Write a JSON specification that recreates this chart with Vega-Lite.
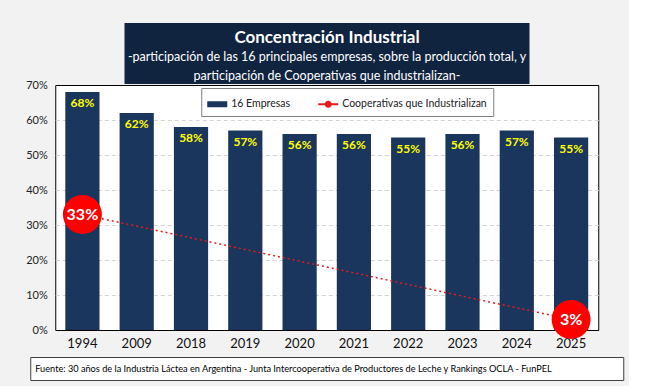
{
  "$schema": "https://vega.github.io/schema/vega-lite/v6.json",
  "background": "#f2f2f2",
  "padding": {"top": 23, "left": 25, "right": 5, "bottom": 5},
  "config": {"font": "Lato", "view": {"stroke": null}},
  "datasets": {
    "bars": [
      {"year": "1994", "share": 0.68},
      {"year": "2009", "share": 0.62},
      {"year": "2018", "share": 0.58},
      {"year": "2019", "share": 0.57},
      {"year": "2020", "share": 0.56},
      {"year": "2021", "share": 0.56},
      {"year": "2022", "share": 0.55},
      {"year": "2023", "share": 0.56},
      {"year": "2024", "share": 0.57},
      {"year": "2025", "share": 0.55}
    ],
    "coop": [
      {"year": "1994", "share": 0.33},
      {"year": "2025", "share": 0.03}
    ],
    "title": [
      {"row": 1, "text": "Concentración Industrial"},
      {"row": 2, "text": "-participación de las 16 principales empresas, sobre la producción total, y"},
      {"row": 3, "text": "participación de Cooperativas que industrializan-"}
    ]
  },
  "spacing": -6,
  "center": true,
  "bounds": "full",
  "resolve": {"scale": {"color": "independent"}, "legend": {"color": "independent"}},
  "vconcat": [
    {
      "width": 405,
      "height": 61,
      "view": {"fill": "#10243f", "stroke": null},
      "data": {"name": "title"},
      "encoding": {
        "y": {"field": "row", "type": "quantitative", "scale": {"domain": [0.2, 3.4], "reverse": true}, "axis": null},
        "text": {"field": "text"}
      },
      "layer": [
        {
          "transform": [{"filter": "datum.row === 1"}],
          "mark": {"type": "text", "fontWeight": "bold", "fontSize": 17, "color": "white"}
        },
        {
          "transform": [{"filter": "datum.row > 1"}],
          "mark": {"type": "text", "fontSize": 12.5, "color": "white"}
        }
      ]
    },
    {
      "width": 543,
      "height": 245,
      "view": {"fill": "white", "stroke": "black", "strokeWidth": 1},
      "encoding": {
        "x": {
          "field": "year", "type": "nominal", "sort": null,
          "scale": {"domain": ["1994","2009","2018","2019","2020","2021","2022","2023","2024","2025"], "paddingInner": 0.37, "paddingOuter": 0.185},
          "axis": {"title": " ", "titleFontSize": 6, "titlePadding": 0, "labelAngle": 0, "labelFontSize": 13, "labelColor": "#111", "labelPadding": 7, "ticks": false, "domain": false}
        },
        "y": {
          "field": "share", "type": "quantitative",
          "scale": {"domain": [0, 0.7]},
          "axis": {
            "title": null, "format": ".0%", "values": [0, 0.1, 0.2, 0.3, 0.4, 0.5, 0.6, 0.7],
            "labelFontSize": 11, "labelColor": "#222", "labelPadding": 8, "ticks": false, "domain": false,
            "grid": true, "gridDash": [4, 3], "gridColor": "#d4d4d4",
            "gridOpacity": {"condition": {"test": "datum.value < 0.05 || datum.value > 0.65", "value": 0}, "value": 1}
          }
        }
      },
      "layer": [
        {
          "data": {"name": "bars"},
          "mark": {"type": "bar"},
          "encoding": {
            "color": {
              "datum": "16 Empresas", "type": "nominal",
              "scale": {"domain": ["16 Empresas", "Cooperativas que Industrializan"], "range": ["#1b365d", "#e31a1c"]},
              "legend": {
                "orient": "none", "legendX": 146, "legendY": 3, "direction": "horizontal", "title": null,
                "fillColor": "white", "strokeColor": "#7f7f7f", "padding": 6,
                "labelFontSize": 10.5, "labelColor": "#222", "labelLimit": 300, "columnPadding": 28,
                "symbolSize": 400, "symbolStrokeWidth": 0,
                "encode": {
                  "symbols": {
                    "update": {
                      "shape": {"signal": "datum.value === '16 Empresas' ? 'M-1,-0.3H1V0.3H-1Z' : 'M-1,-0.1H1V0.1H-1Z M0.35,0A0.35,0.35,0,1,1,-0.35,0A0.35,0.35,0,1,1,0.35,0Z'"},
                      "fill": {"signal": "datum.value === '16 Empresas' ? '#1b365d' : '#e31a1c'"},
                      "fillOpacity": {"value": 1},
                      "strokeWidth": {"value": 0}
                    }
                  }
                }
              }
            }
          }
        },
        {
          "data": {"name": "bars"},
          "mark": {"type": "text", "baseline": "top", "dy": 6, "fontWeight": "bold", "fontSize": 12, "color": "#ffff00"},
          "encoding": {"text": {"field": "share", "format": ".0%"}}
        },
        {
          "data": {"name": "coop"},
          "mark": {"type": "line", "strokeDash": [2, 3], "strokeWidth": 1.5},
          "encoding": {"color": {"datum": "Cooperativas que Industrializan", "type": "nominal"}}
        },
        {
          "data": {"name": "coop"},
          "mark": {"type": "circle", "size": 1520, "color": "#ff0000", "opacity": 1}
        },
        {
          "data": {"name": "coop"},
          "mark": {"type": "text", "fontSize": 16, "fontWeight": "bold", "color": "white"},
          "encoding": {"text": {"field": "share", "format": ".0%"}}
        },
        {
          "data": {"values": [{"label": "OCLA"}]},
          "mark": {"type": "text", "fontSize": 20, "fontWeight": "bold", "color": "#cfcfcf", "opacity": 0.9, "dx": -2},
          "encoding": {
            "x": {"datum": "2023", "type": "nominal"},
            "y": {"datum": 0.354, "type": "quantitative"},
            "text": {"field": "label"}
          }
        },
        {
          "data": {"values": [{"label": "Observatorio\nde la Cadena Láctea\nArgentina"}]},
          "mark": {"type": "text", "fontSize": 8, "color": "#c8c8c8", "opacity": 0.9, "align": "left", "baseline": "middle", "dx": 28, "lineBreak": "\n", "lineHeight": 8.5},
          "encoding": {
            "x": {"datum": "2023", "type": "nominal"},
            "y": {"datum": 0.34, "type": "quantitative"},
            "text": {"field": "label"}
          }
        }
      ]
    },
    {
      "width": 593,
      "height": 23,
      "view": {"fill": "white", "stroke": "#404040"},
      "data": {"values": [{"text": "Fuente: 30 años de la Industria Láctea en Argentina - Junta Intercooperativa de Productores de Leche y Rankings OCLA - FunPEL"}]},
      "mark": {"type": "text", "align": "left", "baseline": "middle", "fontSize": 9.2, "dx": 5, "color": "black"},
      "encoding": {
        "x": {"datum": 0, "type": "quantitative", "scale": {"domain": [0, 1]}, "axis": null},
        "text": {"field": "text"}
      }
    }
  ]
}
